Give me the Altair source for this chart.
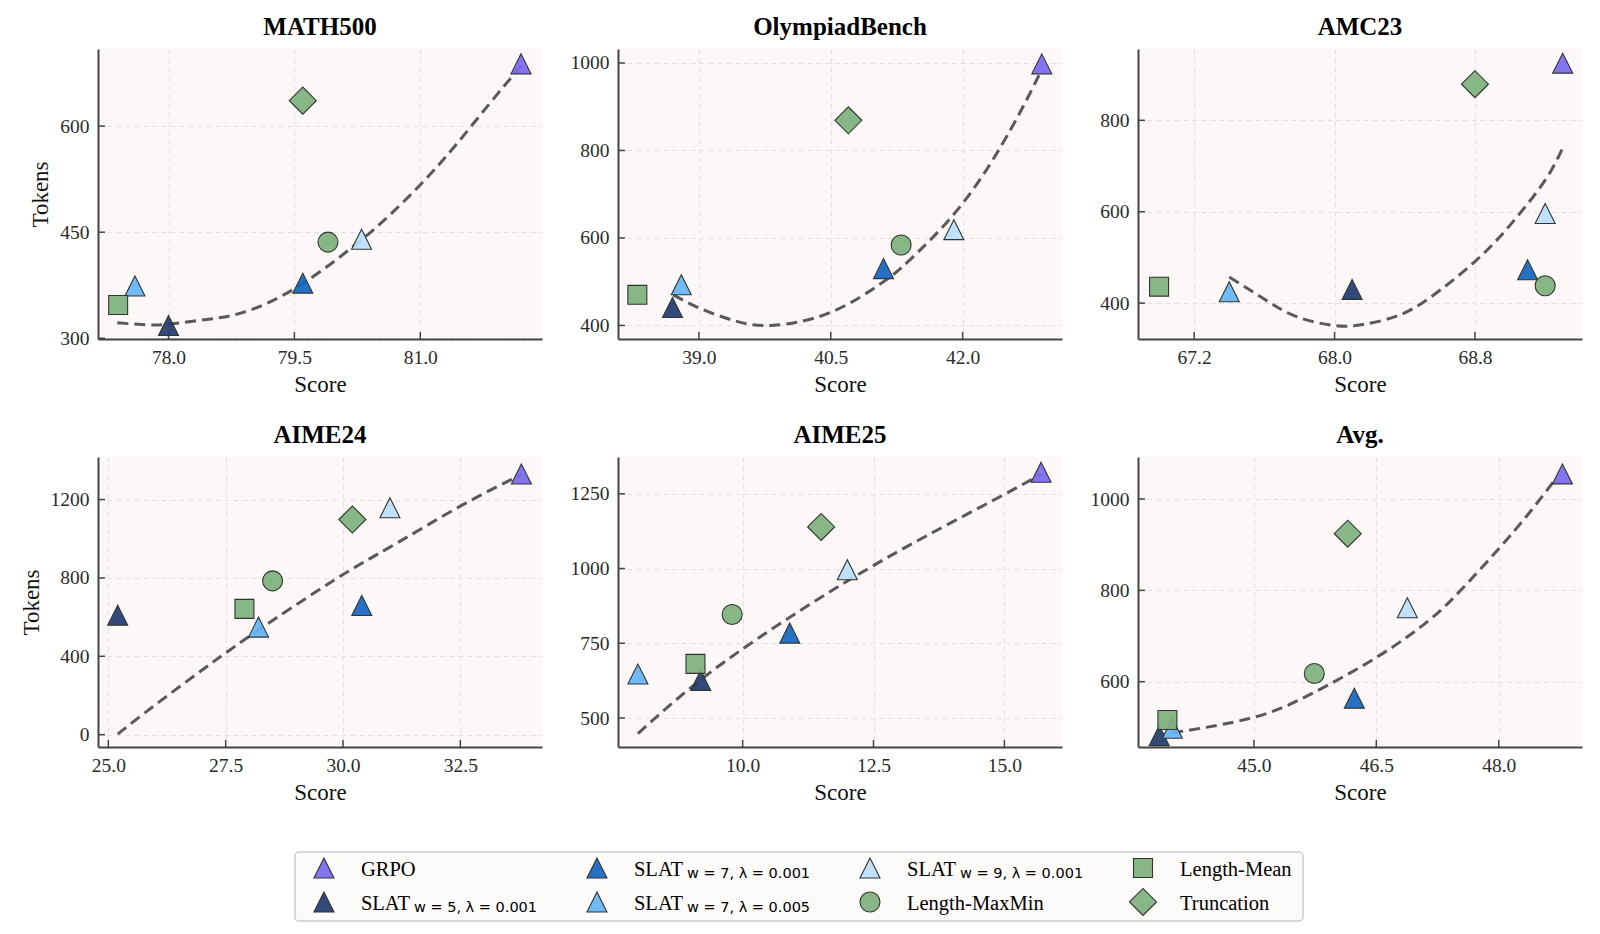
import altair as alt
import pandas as pd

# ---------------- series definitions ----------------
series = ["GRPO", "SLAT_w5_l0.001", "SLAT_w7_l0.001", "SLAT_w7_l0.005",
          "SLAT_w9_l0.001", "Length-MaxMin", "Length-Mean", "Truncation"]
label_main = ["GRPO", "SLAT", "SLAT", "SLAT", "SLAT",
              "Length-MaxMin", "Length-Mean", "Truncation"]
label_sub = ["", "w = 5, λ = 0.001", "w = 7, λ = 0.001", "w = 7, λ = 0.005",
             "w = 9, λ = 0.001", "", "", ""]
colors = ["#7B68EE", "#1F3B6E", "#1565C0", "#64B5F6", "#BBDEFB",
          "#7DB07D", "#7DB07D", "#7DB07D"]
TRI = "M0,-1L1,1L-1,1Z"
shapes = [TRI, TRI, TRI, TRI, TRI, "circle", "square", "diamond"]
sizes = [400, 400, 400, 400, 400, 400, 360, 730]

# ---------------- values ----------------
math500_score = [82.2, 78.0, 79.6, 77.6, 80.3, 79.9, 77.4, 79.6]
math500_tokens = [688, 318, 378, 374, 440, 436, 347, 636]
math500_fit_x = [77.39, 77.73, 78.0, 78.48, 78.9, 79.5, 80.15, 80.57, 81.0, 81.4, 81.82, 82.2]
math500_fit_y = [322, 319, 320, 327, 337, 370, 425, 467, 517, 570, 631, 685]

olym_score = [42.9, 38.7, 41.1, 38.8, 41.9, 41.3, 38.3, 40.7]
olym_tokens = [998, 441, 530, 493, 619, 584, 470, 869]
olym_fit_x = [38.71, 39.0, 39.4, 39.83, 40.5, 41.1, 41.4, 42.0, 42.56, 42.9]
olym_fit_y = [470, 440, 411, 400, 430, 500, 550, 679, 853, 985]

amc_score = [69.3, 68.1, 69.1, 67.4, 69.2, 69.2, 67.0, 68.8]
amc_tokens = [925, 430, 473, 425, 596, 438, 436, 879]
amc_fit_x = [67.4, 67.59, 67.78, 68.0, 68.16, 68.35, 68.54, 68.8, 69.01, 69.2, 69.3]
amc_fit_y = [457, 411, 371, 351, 353, 371, 411, 491, 575, 669, 740]

aime24_score = [33.8, 25.2, 30.4, 28.2, 31.0, 28.5, 27.9, 30.2]
aime24_tokens = [1330, 610, 659, 549, 1158, 785, 642, 1098]
aime24_fit_x = [25.2, 26.0, 27.0, 27.5, 28.5, 30.0, 31.0, 32.5, 33.8]
aime24_fit_y = [3, 152, 330, 417, 583, 817, 957, 1166, 1327]

aime25_score = [15.7, 9.2, 10.9, 8.0, 12.0, 9.8, 9.1, 11.5]
aime25_tokens = [1322, 626, 784, 647, 996, 846, 681, 1139]
aime25_fit_x = [8.0, 9.0, 10.0, 11.0, 12.0, 13.0, 14.0, 15.0, 15.7]
aime25_fit_y = [448, 600, 731, 848, 958, 1060, 1155, 1248, 1315]

avg_score = [48.78, 43.84, 46.23, 44.0, 46.88, 45.74, 43.94, 46.15]
avg_tokens = [1055, 482, 564, 498, 762, 618, 516, 924]
avg_fit_x = [44.0, 45.0, 45.72, 46.5, 47.15, 47.56, 48.0, 48.38, 48.7]
avg_fit_y = [488, 522, 575, 653, 735, 805, 891, 971, 1045]

# axis ranges and tick labels
math500_xdom, math500_ydom = [77.16, 82.45], [299, 709]
olym_xdom, olym_ydom = [38.08, 43.13], [369, 1032]
amc_xdom, amc_ydom = [66.88, 69.41], [321.5, 956]
aime24_xdom, aime24_ydom = [24.78, 34.24], [-63, 1417]
aime25_xdom, aime25_ydom = [7.62, 16.1], [403, 1373]
avg_xdom, avg_ydom = [43.58, 49.02], [457, 1092]

math500_xticks, math500_yticks = [78.0, 79.5, 81.0], [300, 450, 600]
olym_xticks, olym_yticks = [39.0, 40.5, 42.0], [400, 600, 800, 1000]
amc_xticks, amc_yticks = [67.2, 68.0, 68.8], [400, 600, 800]
aime24_xticks, aime24_yticks = [25.0, 27.5, 30.0, 32.5], [0, 400, 800, 1200]
aime25_xticks, aime25_yticks = [10.0, 12.5, 15.0], [500, 750, 1000, 1250]
avg_xticks, avg_yticks = [45.0, 46.5, 48.0], [600, 800, 1000]

# ---------------- styling ----------------
SERIF = "Liberation Serif"
BG = "#FCF8F8"
PANEL_W = 444

fill_enc = alt.Fill("series:N", scale=alt.Scale(domain=series, range=colors), legend=None)
shape_enc = alt.Shape("series:N", scale=alt.Scale(domain=series, range=shapes), legend=None)
size_enc = alt.Size("series:N", scale=alt.Scale(type="ordinal", domain=series, range=sizes), legend=None)


def panel(name, score, tokens, fx, fy, xdom, ydom, xticks, yticks, ytitle, h):
    pts = pd.DataFrame({"series": series, "Score": score, "Tokens": tokens})
    fit = pd.DataFrame({"Score": fx, "Tokens": fy})
    xt = pd.DataFrame({"Score": xticks})
    yt = pd.DataFrame({"Tokens": yticks})

    xax = alt.Axis(values=xticks, format=".1f", title="Score")
    if ytitle:
        yax = alt.Axis(values=yticks, format="d", title="Tokens")
    else:
        yax = alt.Axis(values=yticks, format="d", title=None)
    x_enc = alt.X("Score:Q", scale=alt.Scale(domain=xdom, nice=False, zero=False), axis=xax)
    y_enc = alt.Y("Tokens:Q", scale=alt.Scale(domain=ydom, nice=False, zero=False), axis=yax)

    line = alt.Chart(fit).mark_line(
        color="#595959", strokeWidth=3, strokeDash=[11, 6], interpolate="natural"
    ).encode(x=x_enc, y=y_enc)
    xtick = alt.Chart(xt).mark_rule(color="#444444", strokeWidth=1.5).encode(
        x=x_enc, y=alt.value(h), y2=alt.value(h - 7))
    ytick = alt.Chart(yt).mark_rule(color="#444444", strokeWidth=1.5).encode(
        y=y_enc, x=alt.value(0), x2=alt.value(7))
    points = alt.Chart(pts).mark_point(
        filled=True, stroke="#333333", strokeWidth=1.1, fillOpacity=0.92, opacity=1
    ).encode(x=x_enc, y=y_enc, fill=fill_enc, shape=shape_enc, size=size_enc)

    return alt.layer(line, xtick, ytick, points).properties(
        width=PANEL_W, height=h,
        title=alt.TitleParams(name, font=SERIF, fontSize=25, fontWeight="bold",
                              color="black", anchor="middle", offset=9),
        view=alt.ViewBackground(fill=BG, strokeWidth=0),
    )


p1 = panel("MATH500", math500_score, math500_tokens, math500_fit_x, math500_fit_y,
           math500_xdom, math500_ydom, math500_xticks, math500_yticks, True, 290)
p2 = panel("OlympiadBench", olym_score, olym_tokens, olym_fit_x, olym_fit_y,
           olym_xdom, olym_ydom, olym_xticks, olym_yticks, False, 290)
p3 = panel("AMC23", amc_score, amc_tokens, amc_fit_x, amc_fit_y,
           amc_xdom, amc_ydom, amc_xticks, amc_yticks, False, 290)
p4 = panel("AIME24", aime24_score, aime24_tokens, aime24_fit_x, aime24_fit_y,
           aime24_xdom, aime24_ydom, aime24_xticks, aime24_yticks, True, 290)
p5 = panel("AIME25", aime25_score, aime25_tokens, aime25_fit_x, aime25_fit_y,
           aime25_xdom, aime25_ydom, aime25_xticks, aime25_yticks, False, 290)
p6 = panel("Avg.", avg_score, avg_tokens, avg_fit_x, avg_fit_y,
           avg_xdom, avg_ydom, avg_xticks, avg_yticks, False, 290)

# ---------------- legend ----------------
leg_df = pd.DataFrame({
    "series": series, "main": label_main, "sub": label_sub,
    "col": [i // 2 for i in range(len(series))],
    "row": [i % 2 for i in range(len(series))],
})
lx = alt.X("col:Q", scale=alt.Scale(domain=[-0.106, 3.586], nice=False, zero=False), axis=None)
ly = alt.Y("row:Q", scale=alt.Scale(domain=[-0.47, 1.56], nice=False, zero=False, reverse=True), axis=None)
leg_base = alt.Chart(leg_df)
leg_pts = leg_base.mark_point(
    filled=True, stroke="#333333", strokeWidth=1.1, fillOpacity=0.92, opacity=1
).encode(x=lx, y=ly, fill=fill_enc, shape=shape_enc, size=size_enc)
leg_main = leg_base.mark_text(
    align="left", baseline="middle", dx=37, dy=2, font=SERIF, fontSize=20.5, color="black"
).encode(x=lx, y=ly, text="main:N")
leg_sub = leg_base.mark_text(
    align="left", baseline="middle", dx=90, dy=6, font="DejaVu Sans", fontSize=14.5, color="black"
).encode(x=lx, y=ly, text="sub:N")
legend = alt.layer(leg_pts, leg_main, leg_sub).properties(
    width=1008, height=69,
    view=alt.ViewBackground(fill="#FDFAFA", stroke="#CCCCCC", strokeWidth=1.5, cornerRadius=4),
)
spacer = alt.Chart(pd.DataFrame({"v": [0]})).mark_point(opacity=0).encode(
    x=alt.X("v:Q", axis=None), y=alt.Y("v:Q", axis=None)
).properties(width=197, height=69, view=alt.ViewBackground(strokeWidth=0))

grid = alt.concat(p1, p2, p3, p4, p5, p6, columns=3,
                  spacing=alt.RowColnumber(row=118, column=76), bounds="flush")
leg_row = alt.hconcat(spacer, legend, spacing=0, bounds="flush")

chart = alt.vconcat(grid, leg_row, spacing=46, bounds="full").properties(
    padding={"left": 20, "top": 15, "right": 5, "bottom": 5}
).configure(
    background="white", font=SERIF
).configure_axis(
    labelFont=SERIF, labelFontSize=19.5, labelColor="#2a2a2a",
    titleFont=SERIF, titleFontSize=23, titleFontWeight="normal", titleColor="#111111",
    domainColor="#444444", domainWidth=2, ticks=False,
    gridColor="#E6DEDE", gridDash=[5, 4], gridWidth=1,
    labelPadding=9, titlePadding=7,
)

chart.save("out.html", embed_options={"renderer": "svg", "actions": False})
